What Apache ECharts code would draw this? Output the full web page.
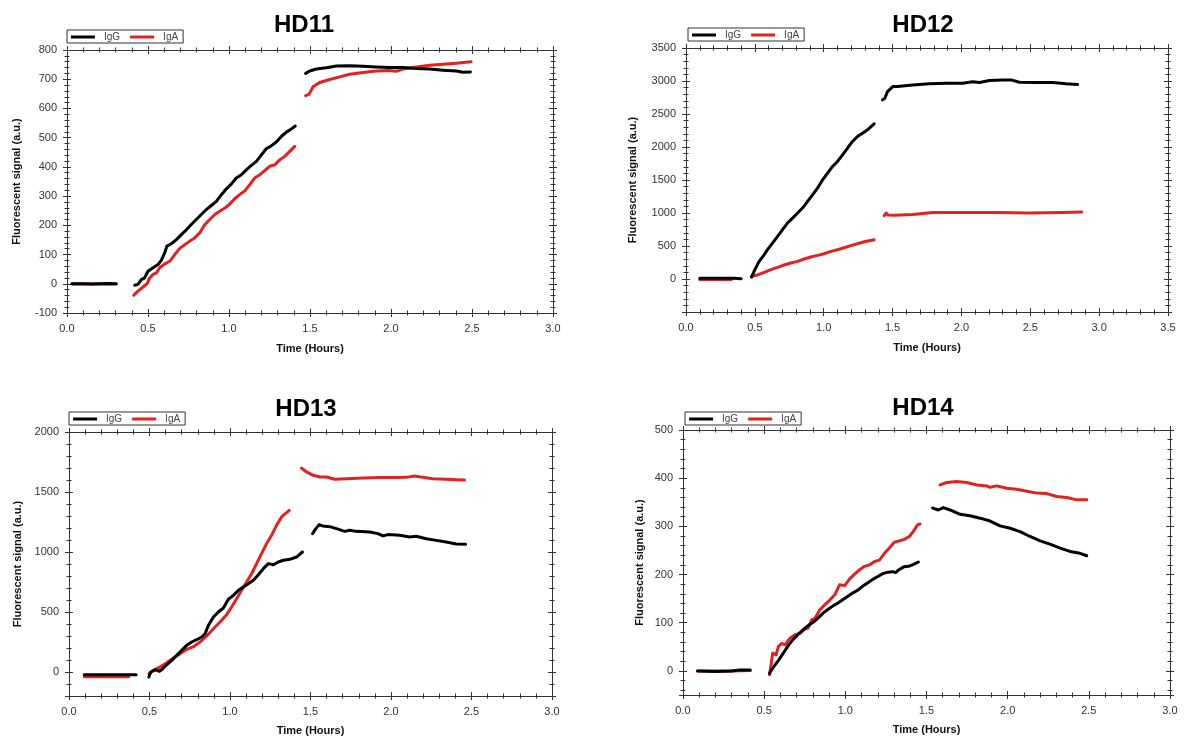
<!DOCTYPE html>
<html>
<head>
<meta charset="utf-8">
<script src="https://cdn.jsdelivr.net/npm/echarts@6/dist/echarts.min.js"></script>
<style>
html,body{margin:0;padding:0;background:#fff;}
#chart{width:1190px;height:742px;}
</style>
</head>
<body>
<div id="chart"></div>
<script>
// ---------------- data (time in hours, fluorescent signal in a.u.) ----------------
const panelTitles = ['HD11', 'HD12', 'HD13', 'HD14'];
const seriesNames = ['IgG', 'IgA'];

const HD11_IgG = [
  [[0.03,0],[0.1,0],[0.15,-1],[0.2,0],[0.25,1],[0.305,0]],
  [[0.418,-5],[0.438,-2],[0.459,14],[0.479,20],[0.5,43],[0.531,55],[0.562,66],[0.582,80],[0.603,106],[0.617,129],
   [0.644,137],[0.675,151],[0.706,168],[0.737,185],[0.767,203],[0.798,220],[0.829,237],[0.86,254],[0.891,268],
   [0.922,282],[0.953,305],[0.984,325],[1.014,341],[1.045,362],[1.076,373],[1.107,390],[1.138,405],[1.169,419],
   [1.2,441],[1.23,462],[1.261,472],[1.292,485],[1.323,504],[1.354,519],[1.385,530],[1.409,540]],
  [[1.473,720],[1.498,728],[1.539,735],[1.601,739],[1.663,745],[1.745,746],[1.827,744],[1.909,742],[1.992,740],
   [2.074,740],[2.156,737],[2.239,735],[2.321,731],[2.403,728],[2.444,724],[2.49,725]]
];
const HD11_IgA = [
  [[0.03,-1],[0.1,-1],[0.2,-1],[0.3,-1]],
  [[0.412,-39],[0.438,-25],[0.469,-11],[0.494,0],[0.51,20],[0.531,32],[0.552,37],[0.572,55],[0.603,68],[0.634,77],
   [0.665,100],[0.696,121],[0.727,134],[0.758,146],[0.788,157],[0.819,174],[0.85,202],[0.881,220],[0.912,237],
   [0.943,248],[0.974,259],[1.005,273],[1.035,291],[1.066,305],[1.097,318],[1.128,339],[1.159,362],[1.19,373],
   [1.22,387],[1.251,402],[1.282,407],[1.313,424],[1.344,436],[1.375,453],[1.406,470]],
  [[1.473,644],[1.494,648],[1.518,674],[1.56,689],[1.621,699],[1.683,708],[1.745,717],[1.827,723],[1.909,728],
   [1.992,730],[2.03,727],[2.074,735],[2.156,742],[2.239,748],[2.321,751],[2.403,755],[2.494,760]]
];

const HD12_IgG = [
  [[0.10,10],[0.2,10],[0.3,12],[0.35,10],[0.40,5]],
  [[0.476,30],[0.5,141],[0.531,267],[0.563,353],[0.592,444],[0.628,545],[0.665,646],[0.701,747],[0.737,848],
   [0.774,923],[0.81,999],[0.846,1075],[0.883,1175],[0.919,1276],[0.955,1377],[0.992,1503],[1.028,1604],
   [1.064,1705],[1.1,1781],[1.137,1882],[1.173,1983],[1.209,2084],[1.245,2159],[1.282,2210],[1.318,2260],[1.366,2351]],
  [[1.427,2714],[1.444,2739],[1.463,2840],[1.501,2916],[1.536,2918],[1.647,2941],[1.768,2957],[1.889,2967],
   [2.009,2967],[2.082,2987],[2.131,2977],[2.203,3007],[2.3,3017],[2.361,3017],[2.421,2982],[2.542,2977],
   [2.663,2977],[2.76,2957],[2.844,2947]]
];
const HD12_IgA = [
  [[0.10,-8],[0.2,-8],[0.33,-8]],
  [[0.476,40],[0.519,61],[0.568,101],[0.616,141],[0.665,177],[0.713,212],[0.761,242],[0.81,267],[0.858,303],
   [0.906,333],[0.955,358],[1.003,383],[1.052,419],[1.1,444],[1.148,474],[1.197,505],[1.245,535],[1.294,565],[1.366,595]],
  [[1.439,959],[1.453,999],[1.468,969],[1.511,965],[1.647,978],[1.792,1008],[2.009,1008],[2.252,1008],
   [2.494,999],[2.735,1008],[2.873,1014]]
];

const HD13_IgG = [
  [[0.095,-22],[0.2,-22],[0.3,-22],[0.417,-22]],
  [[0.496,-42],[0.508,0],[0.535,19],[0.562,6],[0.576,19],[0.603,56],[0.638,97],[0.669,139],[0.7,181],[0.731,222],
   [0.762,250],[0.793,269],[0.824,292],[0.845,319],[0.866,389],[0.897,458],[0.928,500],[0.959,533],[0.99,606],
   [1.021,639],[1.052,681],[1.083,708],[1.114,736],[1.145,764],[1.176,811],[1.207,861],[1.238,903],[1.269,894],
   [1.3,917],[1.331,931],[1.372,939],[1.413,958],[1.45,1000]],
  [[1.513,1153],[1.533,1195],[1.554,1228],[1.575,1217],[1.62,1211],[1.661,1195],[1.713,1172],[1.744,1181],
   [1.785,1172],[1.868,1167],[1.919,1153],[1.95,1134],[1.981,1145],[2.054,1139],[2.116,1125],[2.157,1131],
   [2.219,1111],[2.281,1097],[2.343,1083],[2.405,1067],[2.463,1064]]
];
const HD13_IgA = [
  [[0.095,-39],[0.2,-39],[0.37,-39]],
  [[0.496,-14],[0.525,14],[0.566,42],[0.607,78],[0.649,117],[0.69,153],[0.731,189],[0.773,211],[0.814,250],
   [0.855,300],[0.897,361],[0.938,417],[0.979,478],[1.01,542],[1.041,611],[1.072,681],[1.103,750],[1.134,819],
   [1.165,903],[1.196,986],[1.227,1069],[1.258,1139],[1.289,1222],[1.32,1292],[1.368,1347]],
  [[1.444,1700],[1.475,1667],[1.517,1639],[1.558,1625],[1.6,1625],[1.651,1606],[1.723,1611],[1.826,1617],
   [1.93,1620],[2.033,1620],[2.095,1622],[2.147,1633],[2.198,1622],[2.26,1611],[2.343,1606],[2.405,1603],[2.457,1600]]
];

const HD14_IgG = [
  [[0.09,0],[0.2,-1],[0.3,0],[0.35,2],[0.414,2]],
  [[0.533,-5],[0.557,8],[0.588,22],[0.618,37],[0.649,53],[0.68,66],[0.71,76],[0.741,86],[0.771,94],[0.802,101],
   [0.833,110],[0.863,120],[0.894,128],[0.924,135],[0.955,141],[0.986,148],[1.016,155],[1.047,162],[1.078,168],
   [1.108,176],[1.139,183],[1.169,190],[1.2,196],[1.231,202],[1.261,205],[1.292,206],[1.31,204],[1.33,210],
   [1.36,216],[1.39,217],[1.42,221],[1.45,226]],
  [[1.538,338],[1.573,334],[1.604,339],[1.645,334],[1.707,325],[1.768,322],[1.83,317],[1.892,311],[1.953,301],
   [2.015,296],[2.076,289],[2.138,279],[2.2,270],[2.261,263],[2.323,255],[2.384,248],[2.446,244],[2.487,239]]
];
const HD14_IgA = [
  [[0.09,0],[0.2,0],[0.3,0],[0.414,1]],
  [[0.533,-8],[0.553,37],[0.573,33],[0.588,51],[0.608,57],[0.629,54],[0.659,68],[0.69,75],[0.72,78],[0.751,87],
   [0.771,89],[0.792,106],[0.812,109],[0.843,127],[0.873,137],[0.904,147],[0.935,158],[0.965,179],[0.996,177],
   [1.027,191],[1.057,201],[1.088,210],[1.118,217],[1.149,220],[1.18,227],[1.21,230],[1.241,244],[1.271,255],
   [1.302,267],[1.333,270],[1.363,273],[1.394,279],[1.418,289],[1.445,303],[1.459,305]],
  [[1.583,386],[1.625,391],[1.686,393],[1.748,391],[1.81,386],[1.871,384],[1.892,381],[1.933,384],[1.994,379],
   [2.056,377],[2.118,373],[2.179,369],[2.241,368],[2.303,362],[2.364,360],[2.426,355],[2.487,355]]
];

// axis ranges per panel
const xMaxes = [3.0, 3.5, 3.0, 3.0];
const yMins = [-100, -500, -200, -50];
const yMaxes = [800, 3500, 2000, 500];
const yIntervals = [100, 500, null, null];
const yHiddenLabels = [[], [-500], [-200], [-50]];

const panelData = [
  [HD11_IgG, HD11_IgA],
  [HD12_IgG, HD12_IgA],
  [HD13_IgG, HD13_IgA],
  [HD14_IgG, HD14_IgA]
];

// ---------------- layout / style ----------------
const FONT = '"Liberation Sans", Arial, Helvetica, sans-serif';
const colors = { IgG: '#000000', IgA: '#e3211f' };
const grids = [
  { left: 67, top: 50, width: 486, height: 263 },
  { left: 686, top: 48, width: 482, height: 264 },
  { left: 69, top: 432, width: 483, height: 264 },
  { left: 683, top: 430, width: 487, height: 265 }
];
const titlePos = [
  { left: 299, top: 8 }, { left: 918, top: 8 }, { left: 301, top: 392 }, { left: 918, top: 391 }
];
const legendPos = [
  { left: 67, top: 30 }, { left: 688, top: 28 }, { left: 69, top: 412 }, { left: 685, top: 412 }
];
const yNameGap = [45, 48, 46, 38];
const xNameGap = [30, 30, 29, 29];

const axisColor = '#333';
const xAxes = [], yAxes = [], series = [], titles = [], legends = [];

grids.forEach((g, gi) => {
  titles.push({
    text: panelTitles[gi], left: titlePos[gi].left, top: titlePos[gi].top, textAlign: 'center',
    textStyle: { fontFamily: FONT, fontSize: 24, fontWeight: 'bold', color: '#000' }
  });
  legends.push({
    left: legendPos[gi].left, top: legendPos[gi].top, data: seriesNames, orient: 'horizontal',
    icon: 'rect', itemWidth: 24, itemHeight: 3, itemGap: 10,
    borderColor: '#333', borderWidth: 1, padding: [2, 5, 1, 4], selectedMode: false,
    textStyle: { fontFamily: FONT, fontSize: 10, color: '#444', padding: [0, 0, 0, 4] }
  });

  const sides = [
    { pos: 'bottom', inside: false, main: true },
    { pos: 'bottom', inside: true },
    { pos: 'top', inside: true },
    { pos: 'top', inside: false }
  ];
  sides.forEach(s => {
    xAxes.push({
      type: 'value', gridIndex: gi, position: s.pos, min: 0, max: xMaxes[gi], interval: 0.5,
      name: s.main ? 'Time (Hours)' : '', nameLocation: 'middle', nameGap: xNameGap[gi],
      nameTextStyle: { fontFamily: FONT, fontSize: 11, fontWeight: 'bold', color: '#111' },
      axisLine: { show: true, onZero: false, lineStyle: { color: axisColor, width: 1 } },
      axisTick: { show: true, inside: s.inside, length: 4, lineStyle: { color: axisColor, width: 1 } },
      minorTick: { show: true, splitNumber: 5, length: 2.5, lineStyle: { color: axisColor, width: 1 } },
      splitLine: { show: false },
      axisLabel: { show: !!s.main, fontFamily: FONT, fontSize: 11, color: '#333', margin: 10,
        formatter: v => Number(v).toFixed(1) }
    });
  });
  const ysides = [
    { pos: 'left', inside: false, main: true },
    { pos: 'left', inside: true },
    { pos: 'right', inside: true },
    { pos: 'right', inside: false }
  ];
  ysides.forEach(s => {
    const ax = {
      type: 'value', gridIndex: gi, position: s.pos, min: yMins[gi], max: yMaxes[gi],
      name: s.main ? 'Fluorescent signal (a.u.)' : '', nameLocation: 'middle', nameGap: yNameGap[gi],
      nameTextStyle: { fontFamily: FONT, fontSize: 11, fontWeight: 'bold', color: '#111' },
      axisLine: { show: true, onZero: false, lineStyle: { color: axisColor, width: 1 } },
      axisTick: { show: true, inside: s.inside, length: 4, lineStyle: { color: axisColor, width: 1 } },
      minorTick: { show: true, splitNumber: 5, length: 2.5, lineStyle: { color: axisColor, width: 1 } },
      splitLine: { show: false },
      axisLabel: { show: !!s.main, fontFamily: FONT, fontSize: 11, color: '#333', margin: 10,
        showMinLabel: true, showMaxLabel: true,
        formatter: v => (yHiddenLabels[gi].indexOf(Number(v)) >= 0 ? '' : String(v)) }
    };
    if (yIntervals[gi]) ax.interval = yIntervals[gi];
    else ax.splitNumber = 5;
    yAxes.push(ax);
  });

  panelData[gi].forEach((segs, si) => {
    const nm = seriesNames[si];
    segs.forEach(seg => {
      series.push({
        type: 'line', name: nm, xAxisIndex: gi * 4, yAxisIndex: gi * 4, data: seg,
        showSymbol: false, symbol: 'none', smooth: false, silent: true,
        z: nm === 'IgG' ? 3 : 2,
        color: colors[nm],
        itemStyle: { color: colors[nm] },
        lineStyle: { color: colors[nm], width: 3, cap: 'round', join: 'round' }
      });
    });
  });
});

const chart = echarts.init(document.getElementById('chart'), null, { renderer: 'canvas' });
chart.setOption({
  backgroundColor: '#ffffff',
  animation: false,
  textStyle: { fontFamily: FONT },
  title: titles,
  legend: legends,
  grid: grids.map(g => Object.assign({ containLabel: false }, g)),
  xAxis: xAxes,
  yAxis: yAxes,
  series: series
});
</script>
</body>
</html>
